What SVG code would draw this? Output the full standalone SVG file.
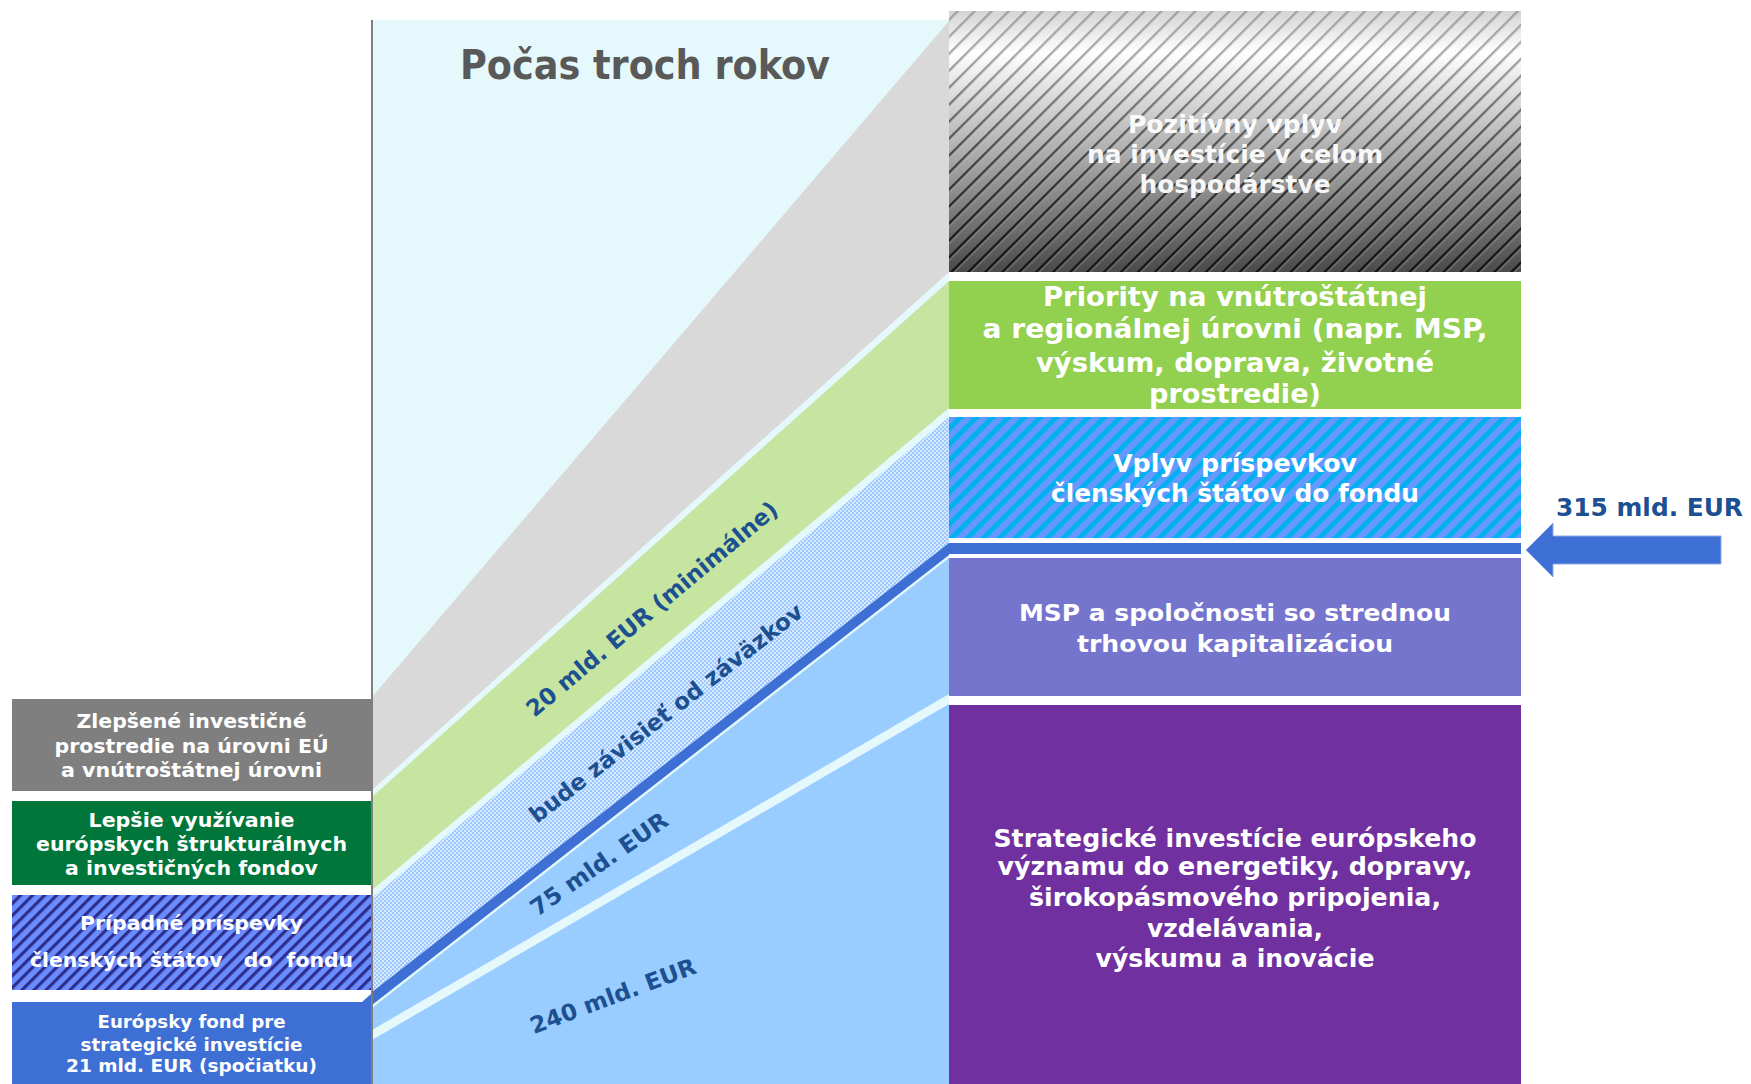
<svg xmlns="http://www.w3.org/2000/svg" width="1751" height="1084" viewBox="0 0 1751 1084">
  <style>
    .lt { font-family: 'DejaVu Sans', Verdana, sans-serif; font-weight: bold; fill: #ffffff; text-anchor: middle; }
    .rt { font-family: 'DejaVu Sans Condensed', 'DejaVu Sans', sans-serif; font-weight: bold; fill: #ffffff; text-anchor: middle; }
    .lab { font-family: 'DejaVu Sans', Verdana, sans-serif; font-weight: bold; fill: #1C5090; text-anchor: middle; font-size: 23px; }
    .sep { fill: #E5F8FC; }
  </style>
  <defs>
    <!-- navy/blue diagonal hatch (left contribution box) -->
    <pattern id="hatchNavy" width="8.5" height="8.5" patternUnits="userSpaceOnUse" patternTransform="rotate(45)">
      <rect width="8.5" height="8.5" fill="#6B8CFF"/>
      <rect width="3.2" height="8.5" fill="#2B2E8C"/>
    </pattern>
    <!-- cyan/periwinkle diagonal hatch (member-state contribution impact) -->
    <pattern id="hatchCyan" width="11.3" height="11.3" patternUnits="userSpaceOnUse" patternTransform="rotate(45)">
      <rect width="11.3" height="11.3" fill="#6699FF"/>
      <rect width="5" height="11.3" fill="#00B0F0"/>
    </pattern>
    <!-- fine dotted fill of the commitment band -->
    <pattern id="dots" width="4" height="4" patternUnits="userSpaceOnUse">
      <rect width="4" height="4" fill="#D8EAFF"/>
      <rect width="2" height="2" fill="#9CC8FF"/>
      <rect x="2" y="2" width="2" height="2" fill="#9CC8FF"/>
    </pattern>
    <!-- thin dark diagonal lines of the economy-wide box -->
    <pattern id="lines" width="12" height="12" patternUnits="userSpaceOnUse" patternTransform="rotate(45)">
      <rect x="0" width="2.4" height="12" fill="#111111"/>
      <rect x="2.4" width="1.4" height="12" fill="#ffffff" fill-opacity="0.25"/>
    </pattern>
    <linearGradient id="grayFade" x1="0" y1="0" x2="0" y2="1">
      <stop offset="0" stop-color="#D4D4D4"/>
      <stop offset="0.16" stop-color="#FFFFFF"/>
      <stop offset="1" stop-color="#4A4A4A"/>
    </linearGradient>
    <linearGradient id="lineFadeGrad" x1="0" y1="0" x2="0" y2="1">
      <stop offset="0" stop-color="#444444"/>
      <stop offset="0.25" stop-color="#666666"/>
      <stop offset="1" stop-color="#ffffff"/>
    </linearGradient>
    <mask id="lineFade" maskUnits="userSpaceOnUse" x="949" y="11" width="572" height="261">
      <rect x="949" y="11" width="572" height="261" fill="url(#lineFadeGrad)"/>
    </mask>
  </defs>

  <rect width="1751" height="1084" fill="#ffffff"/>

  <!-- three-year panel with stacked diagonal bands -->
  <g id="panel">
    <rect x="372" y="20" width="577" height="1064" fill="#E5F8FC"/>
    <polygon points="949,21 949,272 372,790 372,697" fill="#D9D9D9"/>
    <polygon points="949,281 949,408 372,890 372,797" fill="#C5E5A1"/>
    <polygon points="949,417 949,543 372,992 372,898" fill="url(#dots)"/>
    <polygon points="949,558 949,1084 372,1084 372,1008" fill="#99CCFF"/>
    <polygon class="sep" points="949,694 949,704 372,1040 372,1030"/>
    <text x="645" y="79" font-family="'DejaVu Sans Condensed','DejaVu Sans',sans-serif" font-weight="bold" font-size="40" fill="#595959" text-anchor="middle" textLength="370" lengthAdjust="spacingAndGlyphs">Počas troch rokov</text>
    <text class="lab" transform="translate(652,609) rotate(-40)" y="8" textLength="320" lengthAdjust="spacingAndGlyphs">20 mld. EUR (minimálne)</text>
    <text class="lab" transform="translate(666,713) rotate(-38)" y="8" textLength="340" lengthAdjust="spacingAndGlyphs">bude závisieť od záväzkov</text>
    <text class="lab" transform="translate(599,864) rotate(-35)" y="8" textLength="162" lengthAdjust="spacingAndGlyphs">75 mld. EUR</text>
    <text class="lab" transform="translate(613,996) rotate(-20.5)" y="8" textLength="175" lengthAdjust="spacingAndGlyphs">240 mld. EUR</text>
  </g>

  <!-- left column: sources -->
  <g id="left-environment">
    <rect x="12" y="699" width="359" height="92" fill="#7F7F7F"/>
    <text class="lt" font-size="20"><tspan x="191.5" y="727.7" textLength="230" lengthAdjust="spacingAndGlyphs">Zlepšené investičné</tspan><tspan x="191.5" y="752.7" textLength="274" lengthAdjust="spacingAndGlyphs">prostredie na úrovni EÚ</tspan><tspan x="191.5" y="777.3" textLength="261" lengthAdjust="spacingAndGlyphs">a vnútroštátnej úrovni</tspan></text>
  </g>
  <g id="left-esif">
    <rect x="12" y="801" width="359" height="84" fill="#00763A"/>
    <text class="lt" font-size="20"><tspan x="191.5" y="826.7" textLength="206" lengthAdjust="spacingAndGlyphs">Lepšie využívanie</tspan><tspan x="191.5" y="851" textLength="311" lengthAdjust="spacingAndGlyphs">európskych štrukturálnych</tspan><tspan x="191.5" y="875" textLength="253" lengthAdjust="spacingAndGlyphs">a investičných fondov</tspan></text>
  </g>
  <g id="left-contributions">
    <rect x="12" y="895" width="359" height="95" fill="url(#hatchNavy)"/>
    <text class="lt" font-size="20" style="white-space:pre"><tspan x="191.5" y="930" textLength="223" lengthAdjust="spacingAndGlyphs">Prípadné príspevky</tspan><tspan x="191.5" y="967" textLength="323" lengthAdjust="spacingAndGlyphs">členských štátov   do  fondu</tspan></text>
  </g>
  <g id="left-efsi">
    <polygon points="12,1002 362,1002 371,994 371,1084 12,1084" fill="#3D6FD4"/>
    <text class="lt" font-size="17"><tspan x="191.5" y="1028.3" textLength="188" lengthAdjust="spacingAndGlyphs">Európsky fond pre</tspan><tspan x="191.5" y="1050.7" textLength="222" lengthAdjust="spacingAndGlyphs">strategické investície</tspan><tspan x="191.5" y="1071.7" textLength="251" lengthAdjust="spacingAndGlyphs">21 mld. EUR (spočiatku)</tspan></text>
  </g>

  <!-- right column: outcomes -->
  <g id="right-economy">
    <rect x="949" y="11" width="572" height="261" fill="url(#grayFade)"/>
    <rect x="949" y="11" width="572" height="261" fill="url(#lines)" mask="url(#lineFade)"/>
    <text class="rt" font-size="24.5" fill-opacity="0.95"><tspan x="1235" y="133" textLength="214" lengthAdjust="spacingAndGlyphs">Pozitívny vplyv</tspan><tspan x="1235" y="162.7" textLength="296" lengthAdjust="spacingAndGlyphs">na investície v celom</tspan><tspan x="1235" y="192.7" textLength="191" lengthAdjust="spacingAndGlyphs">hospodárstve</tspan></text>
  </g>
  <g id="right-priorities">
    <rect x="949" y="281" width="572" height="128" fill="#92D050"/>
    <text class="rt" font-size="26"><tspan x="1235" y="305.7" textLength="384" lengthAdjust="spacingAndGlyphs">Priority na vnútroštátnej</tspan><tspan x="1235" y="338" textLength="505" lengthAdjust="spacingAndGlyphs">a regionálnej úrovni (napr. MSP,</tspan><tspan x="1235" y="371.7" textLength="398" lengthAdjust="spacingAndGlyphs">výskum, doprava, životné</tspan><tspan x="1235" y="403" textLength="172" lengthAdjust="spacingAndGlyphs">prostredie)</tspan></text>
  </g>
  <g id="right-contributions">
    <rect x="949" y="417" width="572" height="121" fill="url(#hatchCyan)"/>
    <text class="rt" font-size="24.5"><tspan x="1235" y="471.7" textLength="244" lengthAdjust="spacingAndGlyphs">Vplyv príspevkov</tspan><tspan x="1235" y="501.7" textLength="368" lengthAdjust="spacingAndGlyphs">členských štátov do fondu</tspan></text>
  </g>
  <g id="right-sme">
    <rect x="949" y="558" width="572" height="138" fill="#7575CE"/>
    <text class="rt" font-size="23"><tspan x="1235" y="621" textLength="432" lengthAdjust="spacingAndGlyphs">MSP a spoločnosti so strednou</tspan><tspan x="1235" y="651.7" textLength="316" lengthAdjust="spacingAndGlyphs">trhovou kapitalizáciou</tspan></text>
  </g>
  <g id="right-strategic">
    <rect x="949" y="705" width="572" height="379" fill="#7030A0"/>
    <text class="rt" font-size="24"><tspan x="1235" y="846.7" textLength="483" lengthAdjust="spacingAndGlyphs">Strategické investície európskeho</tspan><tspan x="1235" y="875" textLength="475" lengthAdjust="spacingAndGlyphs">významu do energetiky, dopravy,</tspan><tspan x="1235" y="906" textLength="412" lengthAdjust="spacingAndGlyphs">širokopásmového pripojenia,</tspan><tspan x="1235" y="936.7" textLength="176" lengthAdjust="spacingAndGlyphs">vzdelávania,</tspan><tspan x="1235" y="967" textLength="279" lengthAdjust="spacingAndGlyphs">výskumu a inovácie</tspan></text>
  </g>

  <!-- fund flow: diagonal band into the total strip, and the total arrow -->
  <g id="connectors">
    <polygon points="949,543 949,555 372,1005 372,992" fill="#3D6FD4"/>
    <rect x="949" y="543" width="572" height="11" fill="#3D6FD4"/>
    <line x1="372" y1="20" x2="372" y2="1084" stroke="#7F7F7F" stroke-width="2"/>
    <polygon points="1526,550 1553,523 1553,536 1721,536 1721,564 1553,564 1553,577" fill="#3D6FD4" stroke="#8FA9E6" stroke-width="1"/>
    <text x="1556" y="516" font-family="'DejaVu Sans',Verdana,sans-serif" font-weight="bold" font-size="25" fill="#1C5090" textLength="187" lengthAdjust="spacingAndGlyphs">315 mld. EUR</text>
  </g>
</svg>
